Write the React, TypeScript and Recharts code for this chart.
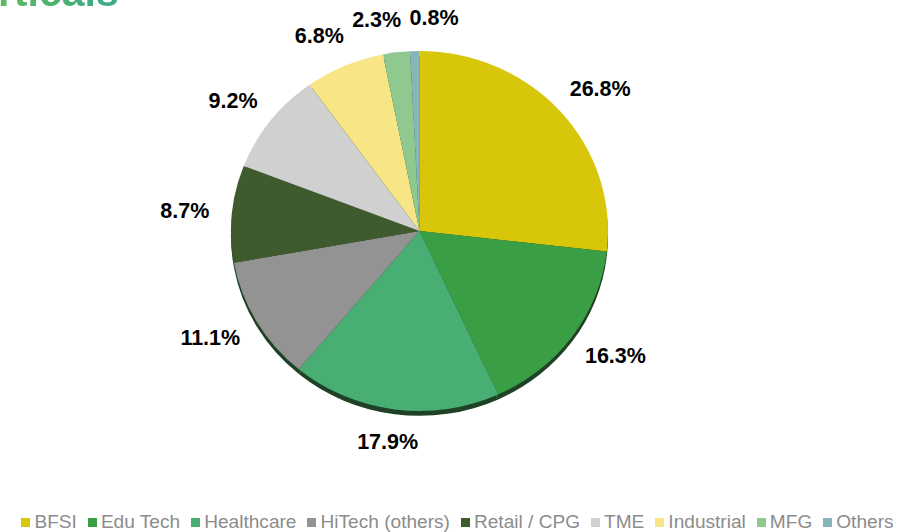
import * as React from 'react';
import { PieChart, Pie, Cell, Legend } from 'recharts';

const categories = ['BFSI', 'Edu Tech', 'Healthcare', 'HiTech (others)', 'Retail / CPG', 'TME', 'Industrial', 'MFG', 'Others'];
const shares = [26.8, 16.3, 17.9, 11.1, 8.7, 9.2, 6.8, 2.3, 0.8];
const colors = ['#d8c60a', '#3a9e44', '#48ae73', '#939393', '#3f5b2d', '#d0d0d0', '#f8e686', '#8fc990', '#84b6ba'];

const data = categories.map((name, i) => ({ name, value: shares[i] }));

const RAD = Math.PI / 180;
const FONT = "'Liberation Sans', Arial, sans-serif";
// the original pie is slightly wider than tall
const SX = 1.0245;
const SY = 0.978;

// outside-end labels, nudged sideways when two of them collide
const layoutLabels = (cx: number, cy: number, outerRadius: number) => {
  const total = shares.reduce((a, b) => a + b, 0);
  let acc = 0;
  const pts = shares.map((v) => {
    const mid = 90 - ((acc + v / 2) / total) * 360;
    acc += v;
    const text = `${v.toFixed(1)}%`;
    const c = Math.cos(-mid * RAD);
    const s = Math.sin(-mid * RAD);
    const halfW = text.length * 6.3;
    const gap = 22;
    const x = cx + outerRadius * SX * c + (gap + halfW) * c;
    const y = cy + outerRadius * SY * s + (gap + 11) * s;
    return { x, y, w: halfW * 2, text };
  });
  for (let k = 0; k < 10; k++) {
    for (let i = 0; i < pts.length; i++) {
      for (let j = i + 1; j < pts.length; j++) {
        const a = pts[i];
        const b = pts[j];
        const need = (a.w + b.w) / 2 + 7;
        const dx = b.x - a.x;
        if (Math.abs(dx) < need && Math.abs(b.y - a.y) < 24) {
          const push = (need - Math.abs(dx)) / 2;
          const dir = dx >= 0 ? 1 : -1;
          a.x -= push * dir;
          b.x += push * dir;
        }
      }
    }
  }
  return pts;
};

const renderLabel = (props: any) => {
  const { cx, cy, outerRadius, index } = props;
  const p = layoutLabels(cx, cy, outerRadius)[index];
  return (
    <text
      x={p.x}
      y={p.y}
      textAnchor="middle"
      dominantBaseline="central"
      fill="#000"
      fontSize={21.5}
      fontWeight={700}
      fontFamily={FONT}
    >
      {p.text}
    </text>
  );
};

// the class lands on two nested layers, so each gets half the stretch
const css = `
.pie-main, .pie-shadow { transform: scale(${Math.sqrt(SX)}, ${Math.sqrt(SY)}); transform-origin: 419.5px 231px; }
.pie-shadow { filter: blur(0.6px); }
`;

export default function App() {
  return (
    <div style={{ position: 'absolute', left: 0, top: 0, width: 901, height: 532, overflow: 'hidden', background: '#fff' }}>
      <style>{css}</style>
      <div
        style={{
          position: 'absolute',
          left: -50,
          top: -28,
          fontFamily: FONT,
          fontWeight: 700,
          fontSize: 41,
          lineHeight: '41px',
          background: 'linear-gradient(90deg, #6cbf58 0%, #4db36e 60%, #35a98c 100%)',
          WebkitBackgroundClip: 'text',
          backgroundClip: 'text',
          color: 'transparent',
        }}
      >
        Verticals
      </div>
      <PieChart width={901} height={532} margin={{ top: 0, right: 0, bottom: 0, left: 0 }}>
        <Pie
          className="pie-shadow"
          data={data}
          dataKey="value"
          nameKey="name"
          cx={419.5}
          cy={236}
          outerRadius={184}
          startAngle={90}
          endAngle={-270}
          stroke="none"
          fill="#1f4226"
          legendType="none"
          isAnimationActive={false}
        >
          {data.map((_, i) => (
            <Cell key={`s-${i}`} fill="#1f4226" />
          ))}
        </Pie>
        <Pie
          className="pie-main"
          data={data}
          dataKey="value"
          nameKey="name"
          cx={419.5}
          cy={231}
          outerRadius={184}
          startAngle={90}
          endAngle={-270}
          stroke="none"
          label={renderLabel}
          labelLine={false}
          isAnimationActive={false}
        >
          {data.map((_, i) => (
            <Cell key={`c-${i}`} fill={colors[i]} />
          ))}
        </Pie>
        <Legend
          layout="horizontal"
          verticalAlign="bottom"
          align="center"
          iconType="square"
          iconSize={9}
          itemSorter={(item: any) => categories.indexOf(item.value)}
          wrapperStyle={{ left: 12.5, width: 901, bottom: 0, top: 511, fontFamily: FONT, fontSize: 19.1 }}
          formatter={(v: string) => <span style={{ color: '#8c8c8c', paddingRight: 1 }}>{v}</span>}
        />
      </PieChart>
    </div>
  );
}
